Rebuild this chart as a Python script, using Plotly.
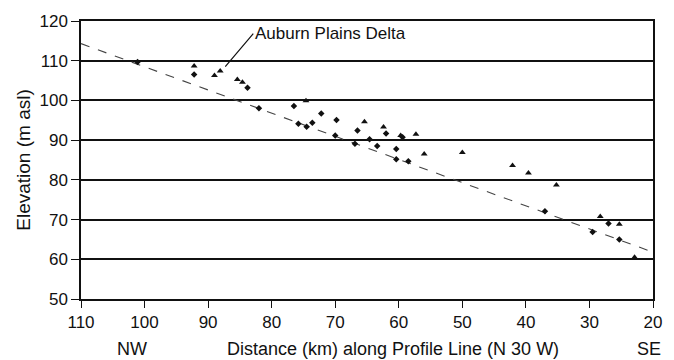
import plotly.graph_objects as go

# Triangles (Auburn Plains Delta / upper surface points)
tri_dist = [92.2, 89.0, 88.1, 85.4, 84.6, 74.6, 65.4, 62.4, 59.7, 57.3, 56.0, 50.0,
            42.1, 39.6, 35.2, 28.3, 25.3, 22.9]
tri_elev = [108.7, 106.3, 107.4, 105.3, 104.6, 99.9, 94.6, 93.3, 91.2, 91.5, 86.5, 86.9,
            83.6, 81.7, 78.7, 70.8, 68.8, 60.5]

# Diamonds
dia_dist = [101.1, 92.2, 83.8, 82.0, 76.5, 72.2, 69.8, 75.8, 74.5, 73.6, 70.0, 66.5,
            66.9, 64.6, 63.4, 62.0, 60.4, 59.4, 60.4, 58.5, 37.0, 29.5, 27.0, 25.3]
dia_elev = [109.7, 106.5, 103.2, 98.0, 98.6, 96.7, 95.1, 94.1, 93.4, 94.4, 91.2, 92.4,
            89.1, 90.2, 88.5, 91.7, 87.8, 90.7, 85.2, 84.7, 72.1, 66.9, 69.0, 65.0]

# Trend line
trend_dist = [110, 20]
trend_elev = [114.3, 61.8]

x_ticks = [110, 100, 90, 80, 70, 60, 50, 40, 30, 20]
y_ticks = [50, 60, 70, 80, 90, 100, 110, 120]

FONT = "Liberation Sans, Arial, sans-serif"

fig = go.Figure()
fig.add_trace(go.Scatter(x=trend_dist, y=trend_elev, mode="lines",
                         line=dict(color="#444444", width=1.1, dash="dash"),
                         showlegend=False, hoverinfo="skip"))
fig.add_trace(go.Scatter(x=dia_dist, y=dia_elev, mode="markers",
                         marker=dict(symbol="diamond", size=5, color="#111111"),
                         showlegend=False))
fig.add_trace(go.Scatter(x=tri_dist, y=tri_elev, mode="markers",
                         marker=dict(symbol="triangle-up", size=6, color="#111111"),
                         showlegend=False))

fig.add_annotation(x=87.3, y=108.5, xref="x", yref="y",
                   text="Auburn Plains Delta", showarrow=True, arrowhead=0,
                   arrowwidth=1.2, arrowcolor="#111111",
                   ax=28, ay=-33, xanchor="left", yanchor="middle",
                   font=dict(family=FONT, size=17, color="#111111"))

for txt, xp, anchor in [("NW", 0.0885, "center"),
                        ("Distance (km) along Profile Line (N 30 W)", 0.2525, "left"),
                        ("SE", 0.993, "center")]:
    fig.add_annotation(x=xp, y=-0.181, xref="paper", yref="paper", text=txt,
                       showarrow=False, xanchor=anchor, yanchor="middle",
                       font=dict(family=FONT, size=18, color="#111111"))

fig.update_xaxes(range=[110, 20], tickvals=x_ticks, ticktext=[str(v) for v in x_ticks],
                 showgrid=False, zeroline=False, showline=True, mirror=True,
                 linecolor="#111111", linewidth=1.5, ticks="outside", ticklen=7,
                 tickcolor="#111111", tickfont=dict(family=FONT, size=17, color="#111111"))
fig.update_yaxes(range=[50, 120], tickvals=y_ticks, ticktext=[str(v) for v in y_ticks],
                 showgrid=True, gridcolor="#111111", gridwidth=1.5, zeroline=False,
                 showline=True, mirror=True, linecolor="#111111", linewidth=1.5,
                 ticks="outside", ticklen=8, tickcolor="#111111", ticklabelstandoff=0,
                 tickfont=dict(family=FONT, size=17, color="#111111"),
                 title=dict(text="Elevation (m asl)", standoff=4,
                            font=dict(family=FONT, size=19, color="#111111")))

fig.update_layout(width=674, height=360, margin=dict(l=81, r=20, t=17, b=61),
                  plot_bgcolor="white", paper_bgcolor="white")

fig.write_html("out.html")
